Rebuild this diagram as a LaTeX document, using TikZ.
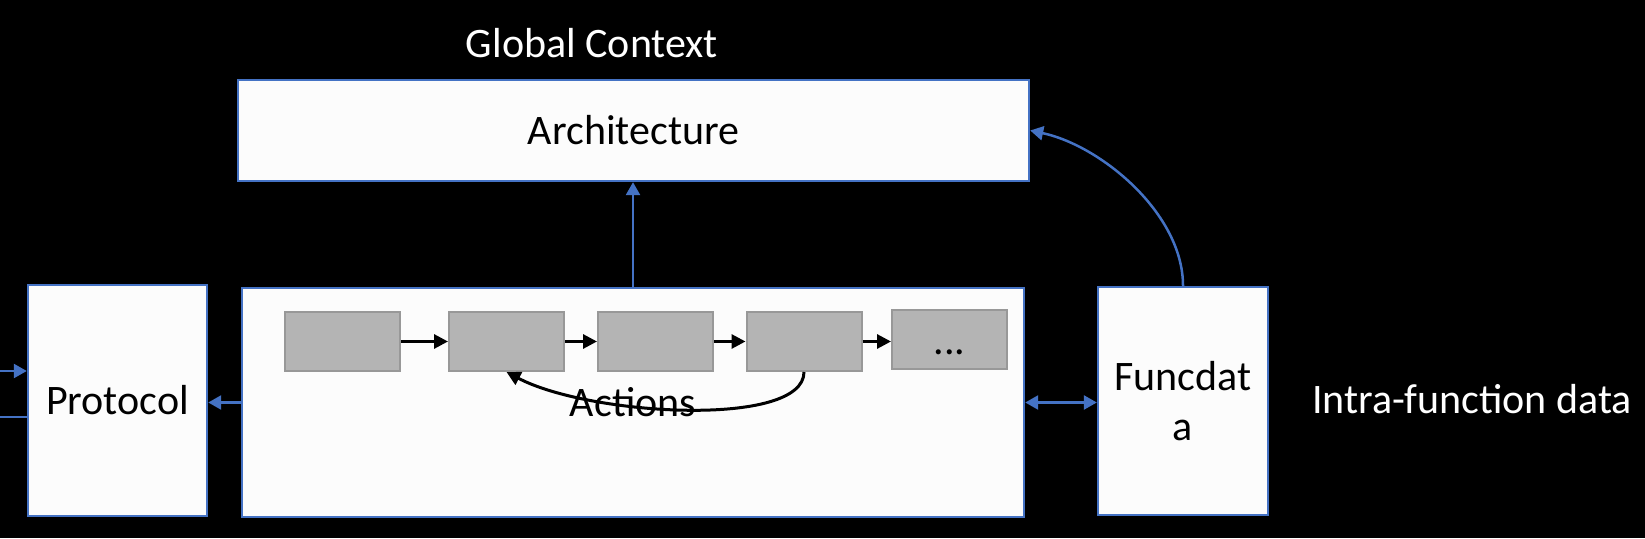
\documentclass[tikz,border=0pt]{standalone}
\usepackage{fontspec}
\setmainfont{Carlito}
\usetikzlibrary{arrows.meta}
\definecolor{ublue}{HTML}{4472C4}
\definecolor{boxfill}{HTML}{FCFCFC}
\definecolor{gfill}{HTML}{B4B4B4}
\definecolor{gborder}{HTML}{989898}
\begin{document}
\begin{tikzpicture}[x=1pt,y=1pt,
  bigbox/.style={draw=ublue, line width=2.4pt, fill=boxfill, inner sep=0pt, font=\fontsize{42}{50}\selectfont, text=black},
  graybox/.style={draw=gborder, line width=2pt, fill=gfill, minimum width=115pt, minimum height=59pt, inner sep=0pt, font=\fontsize{42}{50}\selectfont},
  bluearrow/.style={draw=ublue, line width=2.5pt, -{Triangle[width=14pt,length=13pt]}},
  bluedouble/.style={draw=ublue, line width=2.5pt, {Triangle[width=14pt,length=13pt]}-{Triangle[width=14pt,length=13pt]}},
  blueline/.style={draw=ublue, line width=2.5pt},
  blackarrow/.style={draw=black, line width=3pt, -{Triangle[width=14pt,length=14pt]}},
  lbl/.style={text=white, font=\fontsize{42}{50}\selectfont, inner sep=0pt}]
\fill[black] (0,0) rectangle (1645,538);
\useasboundingbox (0,0) rectangle (1645,538);

% main boxes
\node[bigbox, minimum width=791pt, minimum height=101pt] (arch) at (633.5,407.5) {Architecture};
\node[lbl, anchor=base] (gc) at (592,480) {Global Context};
\node[bigbox, minimum width=782pt, minimum height=229pt] (act) at (633,135.5) {Actions};
\node[bigbox, minimum width=179pt, minimum height=231pt] (proto) at (117.5,137.5) {Protocol};
\node[bigbox, minimum width=170pt, minimum height=228pt, align=center] (func) at (1183,137) {Funcdat\\a};
\node[lbl, anchor=base] (intra) at (1472,124) {Intra-function data};

% action steps
\node[graybox] (g1) at (342.5,196.5) {};
\node[graybox] (g2) at (506.5,196.5) {};
\node[graybox] (g3) at (655.5,196.5) {};
\node[graybox] (g4) at (804,196.5) {};
\node[graybox, text height=30pt, text depth=0pt] (g5) at (949.5,198) {...};

\draw[blackarrow] (g1) -- (g2);
\draw[blackarrow] (g2) -- (g3);
\draw[blackarrow] (g3) -- (g4);
\draw[blackarrow] (g4.east) -- (g4.east -| g5.west);
\draw[blackarrow] (g4.south) .. controls +(0,-56) and +(83.5,-44) .. (g2.south);

% blue connectors
\draw[bluearrow] (act.north) -- (act.north |- arch.south);
\draw[bluearrow] (act.west) -- (act.west -| proto.east);
\draw[bluedouble] (act.east) -- (act.east -| func.west);
\draw[bluearrow] (func.north) to[out=90, in=-12, looseness=0.85] (arch.east);
\coordinate (inL) at (0,167);
\coordinate (outL) at (0,121);
\draw[bluearrow] (inL) -- (inL -| proto.west);
\draw[blueline] (outL -| proto.west) -- (outL);
\end{tikzpicture}
\end{document}
